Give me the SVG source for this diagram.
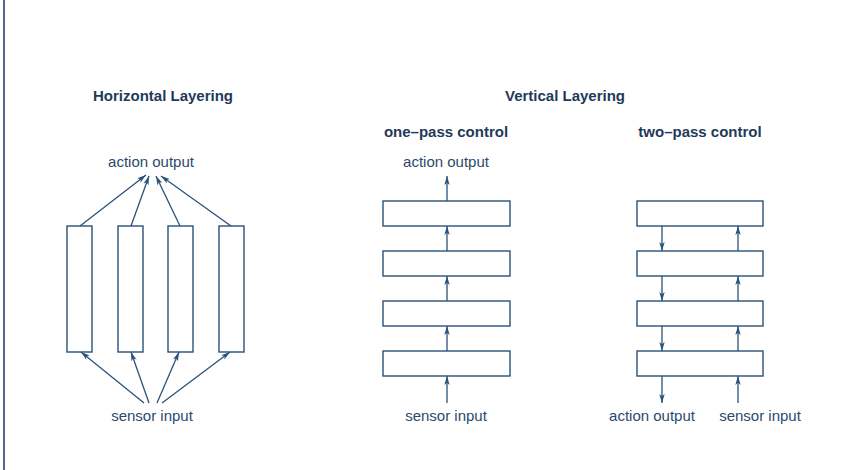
<svg xmlns="http://www.w3.org/2000/svg" width="848" height="470" viewBox="0 0 848 470">
<defs>
<style>
.box{fill:#fff;stroke:#2b5278;stroke-width:1.4}
.ln{stroke:#2b5278;stroke-width:1.3;fill:none;marker-end:url(#ah)}
.t{font-family:"Liberation Sans",Arial,sans-serif;font-size:15px;fill:#2b4a6b;text-anchor:middle}
.h{font-family:"Liberation Sans",Arial,sans-serif;font-size:15px;font-weight:bold;fill:#1f3a5a;text-anchor:middle}
</style>
<marker id="ah" viewBox="0 0 10 6" refX="10" refY="3" markerWidth="9" markerHeight="5.5" markerUnits="userSpaceOnUse" orient="auto">
<path d="M0,0 L10,3 L0,6 L2.5,3 Z" fill="#2b5278"/>
</marker>
</defs>
<rect width="848" height="470" fill="#fff"/>
<line x1="4" y1="0" x2="4" y2="470" stroke="#24407a" stroke-width="1.6"/>

<text class="h" x="163" y="101">Horizontal Layering</text>
<text class="h" x="565" y="101">Vertical Layering</text>
<text class="h" x="446" y="137">one–pass control</text>
<text class="h" x="700" y="137">two–pass control</text>

<g id="horizontal">
<text class="t" x="151" y="167">action output</text>
<text class="t" x="152" y="421">sensor input</text>
<g id="h1"><rect class="box" x="67" y="226" width="25" height="126"/></g>
<g id="h2"><rect class="box" x="118" y="226" width="25" height="126"/></g>
<g id="h3"><rect class="box" x="168" y="226" width="25" height="126"/></g>
<g id="h4"><rect class="box" x="219" y="226" width="25" height="126"/></g>
</g>

<g id="onepass">
<text class="t" x="446" y="167">action output</text>
<text class="t" x="446" y="421">sensor input</text>
<g id="o1"><rect class="box" x="383" y="201" width="127" height="25"/></g>
<g id="o2"><rect class="box" x="383" y="251" width="127" height="25"/></g>
<g id="o3"><rect class="box" x="383" y="301" width="127" height="25"/></g>
<g id="o4"><rect class="box" x="383" y="351" width="127" height="25"/></g>
</g>

<g id="twopass">
<text class="t" x="652" y="421">action output</text>
<text class="t" x="760" y="421">sensor input</text>
<g id="t1"><rect class="box" x="637" y="201" width="126" height="25"/></g>
<g id="t2"><rect class="box" x="637" y="251" width="126" height="25"/></g>
<g id="t3"><rect class="box" x="637" y="301" width="126" height="25"/></g>
<g id="t4"><rect class="box" x="637" y="351" width="126" height="25"/></g>
</g>

<g id="connectors">
<line class="ln" x1="80" y1="226" x2="146" y2="175"/>
<line class="ln" x1="131" y1="226" x2="149" y2="176"/>
<line class="ln" x1="180" y1="226" x2="156" y2="176"/>
<line class="ln" x1="231" y1="226" x2="161" y2="176"/>
<line class="ln" x1="144" y1="403" x2="81" y2="352"/>
<line class="ln" x1="149" y1="403" x2="131" y2="352"/>
<line class="ln" x1="157" y1="403" x2="179" y2="352"/>
<line class="ln" x1="162" y1="403" x2="230" y2="352"/>

<line class="ln" x1="447" y1="201" x2="447" y2="176"/>
<line class="ln" x1="447" y1="251" x2="447" y2="226"/>
<line class="ln" x1="447" y1="301" x2="447" y2="276"/>
<line class="ln" x1="447" y1="351" x2="447" y2="326"/>
<line class="ln" x1="447" y1="403" x2="447" y2="376"/>

<line class="ln" x1="662" y1="226" x2="662" y2="251"/>
<line class="ln" x1="662" y1="276" x2="662" y2="301"/>
<line class="ln" x1="662" y1="326" x2="662" y2="351"/>
<line class="ln" x1="662" y1="376" x2="662" y2="403"/>
<line class="ln" x1="738" y1="251" x2="738" y2="226"/>
<line class="ln" x1="738" y1="301" x2="738" y2="276"/>
<line class="ln" x1="738" y1="351" x2="738" y2="326"/>
<line class="ln" x1="738" y1="403" x2="738" y2="376"/>
</g>
</svg>
